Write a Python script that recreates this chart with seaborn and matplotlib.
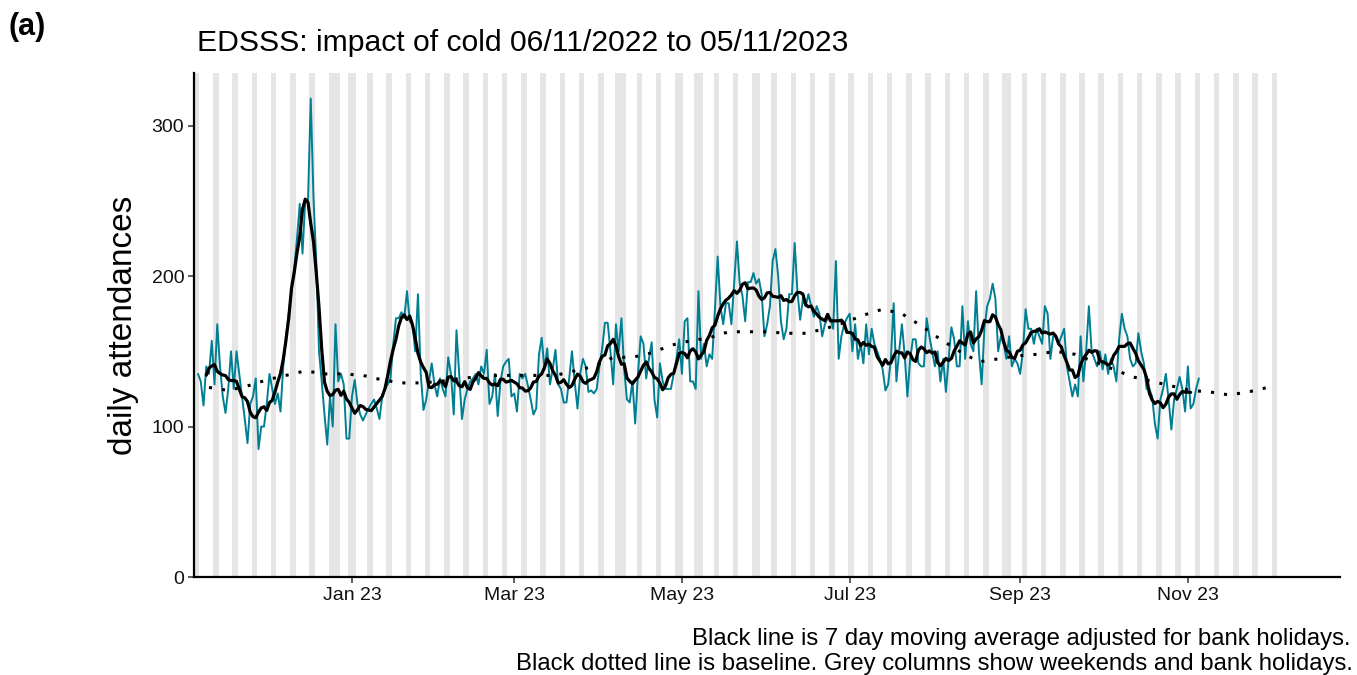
import pandas as pd
import matplotlib
matplotlib.use('Agg')
import matplotlib.pyplot as plt
import matplotlib.dates as mdates
import seaborn as sns

# daily attendances, 06/11/2022 to 05/11/2023 (rows are weeks starting Sunday)
daily = [
    135, 130, 114, 140, 135, 157, 128,
    168, 140, 120, 109, 125, 150, 125,
    150, 135, 120, 105, 89, 115, 120,
    132, 85, 100, 100, 115, 135, 125,
    115, 122, 110, 140, 160, 175, 190,
    205, 225, 248, 215, 250, 250, 318,
    252, 210, 150, 130, 108, 88, 120,
    100, 168, 130, 135, 128, 92, 92,
    120, 131, 115, 108, 104, 108, 112,
    115, 118, 112, 105, 120, 125, 128,
    132, 155, 172, 172, 176, 172, 190,
    170, 168, 150, 188, 135, 111, 118,
    130, 142, 128, 120, 132, 125, 120,
    146, 135, 108, 164, 135, 105, 118,
    125, 130, 132, 135, 128, 140, 135,
    151, 115, 120, 135, 107, 130, 140,
    143, 145, 120, 122, 110, 135, 132,
    135, 127, 118, 108, 112, 148, 159,
    138, 152, 128, 138, 151, 128, 125,
    116, 116, 132, 150, 130, 112, 135,
    145, 140, 123, 124, 122, 125, 140,
    152, 169, 169, 150, 128, 168, 150,
    172, 138, 118, 116, 130, 102, 135,
    160, 155, 132, 145, 156, 118, 106,
    142, 130, 125, 125, 125, 135, 145,
    158, 135, 170, 172, 130, 130, 125,
    190, 145, 155, 140, 148, 145, 178,
    213, 180, 168, 182, 182, 168, 195,
    223, 195, 187, 170, 196, 196, 202,
    195, 198, 188, 160, 168, 180, 210,
    218, 200, 170, 158, 165, 188, 188,
    222, 190, 171, 185, 180, 188, 180,
    173, 180, 175, 160, 168, 172, 172,
    165, 210, 145, 160, 168, 172, 175,
    150, 168, 145, 155, 142, 168, 148,
    165, 155, 150, 145, 138, 124, 128,
    145, 182, 130, 150, 168, 148, 120,
    145, 158, 158, 142, 140, 140, 172,
    160, 150, 140, 150, 130, 145, 123,
    145, 166, 158, 140, 140, 180, 145,
    170, 155, 150, 190, 150, 128, 165,
    180, 185, 195, 185, 150, 160, 155,
    145, 160, 140, 145, 142, 135, 150,
    178, 165, 165, 155, 165, 160, 155,
    180, 175, 145, 160, 160, 155, 160,
    165, 140, 130, 120, 128, 120, 160,
    130, 150, 180, 150, 145, 140, 150,
    138, 148, 135, 145, 140, 130, 158,
    175, 165, 160, 145, 140, 142, 162,
    150, 142, 125, 125, 120, 102, 92,
    118, 125, 135, 118, 98, 118, 125,
    133, 125, 110, 140, 112, 115, 125,
    132,
]

# baseline, weekly from 10/11/2022
baseline = [
    126, 124, 127, 131, 134, 137, 135, 135, 134, 131, 129, 129, 130, 132,
    133, 134, 134, 134, 134, 137, 140, 146, 146, 149, 154, 157, 159, 163,
    163, 163, 162, 162, 165, 169, 174, 178, 175, 167, 158, 150, 143, 145,
    147, 148, 150, 148, 143, 138, 133, 130, 127, 124, 123, 121, 123, 126,
]

bank_holidays = ['2022-12-26', '2022-12-27', '2023-01-02', '2023-04-07',
                 '2023-04-10', '2023-05-01', '2023-05-08', '2023-05-29',
                 '2023-08-28']

df = pd.DataFrame({'date': pd.date_range('2022-11-06', periods=len(daily), freq='D'),
                   'count': daily})
df['ma7'] = df['count'].rolling(7, center=True).mean()
base = pd.DataFrame({'date': pd.date_range('2022-11-10', periods=len(baseline), freq='7D'),
                     'baseline': baseline})

sns.set_theme(style='ticks')
plt.rcParams['font.family'] = ['Liberation Sans', 'DejaVu Sans']
plt.rcParams['text.color'] = 'black'

fig = plt.figure(figsize=(13.57, 6.75), dpi=100)
ax = fig.add_axes([194 / 1357, 1 - 577 / 675, (1340 - 194) / 1357, (577 - 73) / 675])

# grey columns: weekends and bank holidays, merged into runs
days = pd.date_range('2022-11-05', '2023-12-03', freq='D')
grey = days[(days.dayofweek >= 5) | days.isin(pd.to_datetime(bank_holidays))]
half = pd.Timedelta(hours=12)
run_start = prev = grey[0]
for d in list(grey[1:]) + [None]:
    if d is not None and d - prev == pd.Timedelta(days=1):
        prev = d
        continue
    ax.axvspan(run_start - half, prev + half, color='#E5E5E5', lw=0, zorder=0)
    if d is not None:
        run_start = prev = d

sns.lineplot(data=df, x='date', y='count', ax=ax, color='#007F93', lw=1.4, zorder=2)
sns.lineplot(data=base, x='date', y='baseline', ax=ax, color='black', lw=2.2,
             linestyle=(0, (1, 3.3)), zorder=3)
sns.lineplot(data=df, x='date', y='ma7', ax=ax, color='black', lw=2.3, zorder=4)

ax.set_xlim(pd.Timestamp('2022-11-04 13:00'), pd.Timestamp('2023-12-26 08:00'))
ax.set_ylim(0, 335)
ax.set_yticks([0, 100, 200, 300])
ax.xaxis.set_major_locator(mdates.MonthLocator(bymonth=[1, 3, 5, 7, 9, 11]))
ax.xaxis.set_major_formatter(mdates.DateFormatter('%b %y'))
ax.set_xlabel('')
ax.set_ylabel('daily attendances', fontsize=24, color='black', labelpad=9)
sns.despine(ax=ax)
for s in ['left', 'bottom']:
    ax.spines[s].set_linewidth(1.6)
    ax.spines[s].set_color('black')
ax.tick_params(length=4, width=1.1, color='#333333', labelsize=14,
               labelcolor='#111111', pad=3)

fig.text(8 / 1357, 1 - 35 / 675, '(a)', fontsize=22, fontweight='bold', va='baseline')
fig.text(197 / 1357, 1 - 51 / 675, 'EDSSS: impact of cold 06/11/2022 to 05/11/2023',
         fontsize=21.7, va='baseline')
fig.text(1351 / 1357, 1 - 645 / 675,
         'Black line is 7 day moving average adjusted for bank holidays.',
         fontsize=17.2, ha='right', va='baseline')
fig.text(1353 / 1357, 1 - 670 / 675,
         'Black dotted line is baseline. Grey columns show weekends and bank holidays.',
         fontsize=17.2, ha='right', va='baseline')

fig.savefig('out.png', dpi=100)
